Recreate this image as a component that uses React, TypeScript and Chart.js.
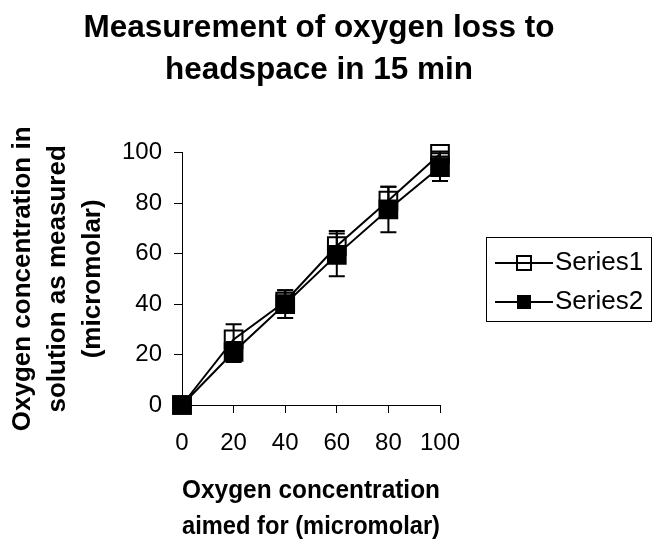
import React, { useEffect, useRef } from "react";
import { Chart, registerables } from "chart.js";

Chart.register(...registerables);

const xValues = [0, 20, 40, 60, 80, 100];
const series1 = [0, 26, 41, 63, 81, 99.5];
const series1Err = [0, 6, 4.5, 6, 5.5, 1];
const series2 = [0, 21, 40, 59.5, 77.5, 94.3];
const series2Err = [0, 4, 5.5, 8.5, 9, 5.5];
const seriesNames = ["Series1", "Series2"];
const titleLines = ["Measurement of oxygen loss to", "headspace in 15 min"];
const xTitleLines = ["Oxygen concentration", "aimed for (micromolar)"];
const yTitleLines = ["Oxygen concentration in", "solution as measured", "(micromolar)"];

const FONT = "'Liberation Sans', Arial, Helvetica, sans-serif";

const errorBarPlugin = {
  id: "errorBars",
  afterDatasetsDraw(chart: any) {
    const ctx = chart.ctx;
    const yScale = chart.scales.y;
    chart.data.datasets.forEach((ds: any, i: number) => {
      const meta = chart.getDatasetMeta(i);
      const errs: number[] = ds.errors || [];
      meta.data.forEach((pt: any, j: number) => {
        const e = errs[j];
        if (!e) return;
        const v = ds.data[j].y;
        const yTop = yScale.getPixelForValue(v + e);
        const yBot = yScale.getPixelForValue(v - e);
        const x = pt.x;
        ctx.save();
        ctx.strokeStyle = "#000";
        ctx.lineWidth = 2;
        ctx.beginPath();
        ctx.moveTo(x, yTop);
        ctx.lineTo(x, yBot);
        ctx.moveTo(x - 8, yTop);
        ctx.lineTo(x + 8, yTop);
        ctx.moveTo(x - 8, yBot);
        ctx.lineTo(x + 8, yBot);
        ctx.stroke();
        ctx.restore();
      });
    });
  },
};

const boxLegendPlugin = {
  id: "boxLegend",
  afterDraw(chart: any) {
    const { ctx, chartArea } = chart;
    const left = Math.round(chartArea.right + 46);
    const width = 165;
    const cy = (chartArea.top + chartArea.bottom) / 2;
    const top = Math.round(cy - 42);
    const height = 84;
    ctx.save();
    ctx.strokeStyle = "#000";
    ctx.lineWidth = 1;
    ctx.strokeRect(left + 0.5, top + 0.5, width, height);
    chart.data.datasets.forEach((ds: any, i: number) => {
      const y = top + 26 + i * 39;
      const x0 = left + 9;
      const x1 = left + 67;
      const xm = (x0 + x1) / 2;
      ctx.strokeStyle = "#000";
      ctx.lineWidth = 2;
      ctx.beginPath();
      ctx.moveTo(x0, y);
      ctx.lineTo(x1, y);
      ctx.stroke();
      const s = 14;
      if (ds.filledMarker) {
        ctx.fillStyle = "#000";
        ctx.fillRect(xm - s / 2, y - s / 2, s, s);
      } else {
        ctx.strokeRect(xm - s / 2, y - s / 2, s, s);
      }
      ctx.fillStyle = "#000";
      ctx.font = `26px ${FONT}`;
      ctx.textBaseline = "middle";
      ctx.textAlign = "left";
      ctx.fillText(ds.label, x1 + 2, y);
    });
    ctx.restore();
  },
};

export default function App() {
  const canvasRef = useRef<HTMLCanvasElement | null>(null);

  useEffect(() => {
    if (!canvasRef.current) return;
    const toPoints = (ys: number[]) => xValues.map((x, i) => ({ x, y: ys[i] }));
    const chart = new Chart(canvasRef.current, {
      type: "line",
      data: {
        datasets: [
          {
            label: seriesNames[0],
            data: toPoints(series1),
            errors: series1Err,
            filledMarker: false,
            borderColor: "#000",
            borderWidth: 2,
            backgroundColor: "rgba(0,0,0,0)",
            pointStyle: "rect",
            pointRadius: 12.5,
            pointBorderWidth: 2,
            pointBorderColor: "#000",
            pointBackgroundColor: "rgba(0,0,0,0)",
            tension: 0,
            clip: false,
          } as any,
          {
            label: seriesNames[1],
            data: toPoints(series2),
            errors: series2Err,
            filledMarker: true,
            borderColor: "#000",
            borderWidth: 2,
            backgroundColor: "#000",
            pointStyle: "rect",
            pointRadius: 12.5,
            pointBorderWidth: 2,
            pointBorderColor: "#000",
            pointBackgroundColor: "#000",
            tension: 0,
            clip: false,
          } as any,
        ],
      },
      options: {
        responsive: false,
        animation: false,
        devicePixelRatio: 1,
        events: [],
        layout: { padding: { left: 0, right: 14, top: 0, bottom: 0 } },
        plugins: {
          legend: { display: false },
          tooltip: { enabled: false },
          title: {
            display: true,
            text: titleLines,
            color: "#000",
            font: { family: FONT, size: 31.5, weight: "bold", lineHeight: 1.333 },
            padding: { top: 7, bottom: 61.7 },
          },
        },
        scales: {
          x: {
            type: "linear",
            min: 0,
            max: 100,
            ticks: {
              stepSize: 20,
              color: "#000",
              font: { family: FONT, size: 24 },
              padding: 16,
            },
            grid: {
              display: true,
              drawOnChartArea: false,
              drawTicks: true,
              tickLength: 8,
              color: "#000",
              lineWidth: 1,
            },
            border: { display: true, color: "#000", width: 1 },
            title: {
              display: true,
              text: xTitleLines,
              color: "#000",
              font: { family: FONT, size: 26, weight: "bold", lineHeight: 1.385 },
              padding: { top: 0, bottom: -5 },
            },
            afterFit: (s: any) => {
              s.height = 135;
            },
          },
          y: {
            type: "linear",
            min: 0,
            max: 100,
            ticks: {
              stepSize: 20,
              color: "#000",
              font: { family: FONT, size: 24 },
              padding: 12,
            },
            grid: {
              display: true,
              drawOnChartArea: false,
              drawTicks: true,
              tickLength: 8,
              color: "#000",
              lineWidth: 1,
            },
            border: { display: true, color: "#000", width: 1 },
            title: {
              display: true,
              text: yTitleLines,
              color: "#000",
              font: { family: FONT, size: 26, weight: "bold", lineHeight: 1.346 },
              padding: { top: 5.5, bottom: 0 },
            },
            afterFit: (s: any) => {
              s.width = 182;
            },
          },
          yRightSpace: {
            type: "linear",
            position: "right",
            display: true,
            ticks: { display: false },
            grid: { display: false, drawTicks: false },
            border: { display: false },
            afterFit: (s: any) => {
              s.width = 198;
            },
          },
        },
      } as any,
      plugins: [errorBarPlugin, boxLegendPlugin],
    });
    return () => chart.destroy();
  }, []);

  return (
    <div style={{ position: "fixed", left: 0, top: 0, width: 652, height: 540, background: "#fff" }}>
      <canvas ref={canvasRef} width={652} height={540} style={{ width: 652, height: 540 }} />
    </div>
  );
}
